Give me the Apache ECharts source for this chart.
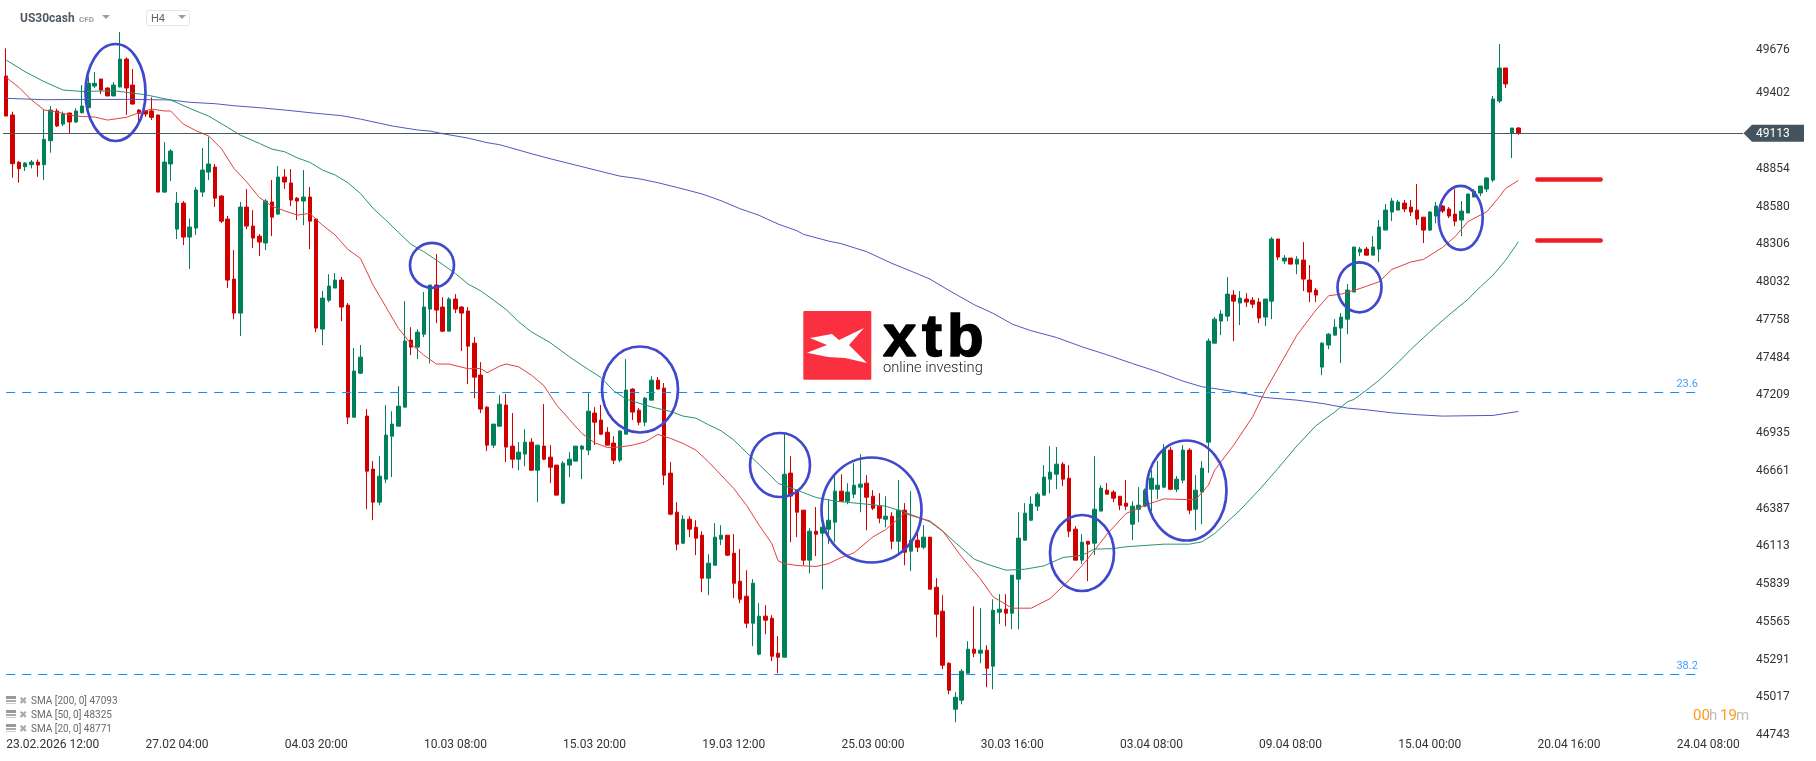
<!DOCTYPE html>
<html>
<head>
<meta charset="utf-8">
<title>US30cash H4</title>
<style>
  html, body { margin: 0; padding: 0; background: #fff; }
  #chart { width: 1816px; height: 761px; }
</style>
</head>
<body>
<div id="chart"></div>
<script src="https://cdn.jsdelivr.net/npm/echarts@6/dist/echarts.min.js"></script>
<script>
const opens = [49529,49246,48902,48870,48885,48904,48885,49059,49275,49180,49260,49195,49262,49299,49456,49507,49442,49384,49449,49652,49463,49282,49275,49275,49246,48686,48890,48417,48606,48359,48425,48686,48831,48868,48657,48490,48054,47807,48577,48439,48366,48316,48614,48526,48795,48752,48642,48621,48650,48490,47691,47901,47989,48047,47865,47051,47371,47059,46674,46434,46601,46913,46986,47124,47611,47560,47654,47836,48011,47851,47676,47909,47851,47822,47589,47357,47124,46848,46986,47139,46841,46746,46783,46870,46666,46841,46761,46703,46427,46703,46732,46819,46812,47081,47030,46942,46863,46739,46928,47255,47102,47015,47175,47320,47262,46645,46361,46136,46310,46252,46194,45882,45976,46165,46194,46063,45860,45751,45555,45330,45606,45591,45337,45308,46645,46521,46376,46013,46223,46209,46238,46289,46514,46441,46492,46543,46572,46477,46405,46310,46332,46150,46376,46078,46158,46107,46180,45816,45642,45264,44930,44996,45192,45366,45337,45359,45243,45635,45657,45628,45875,46158,46303,46405,46485,46601,46637,46710,46608,46238,46013,46150,46136,46369,46521,46507,46477,46427,46274,46383,46405,46528,46528,46543,46812,46528,46594,46812,46383,46507,46870,47589,47749,47785,47938,47880,47909,47901,47887,47778,47894,48345,48185,48207,48163,48192,48047,47974,47415,47575,47647,47698,47763,47960,48250,48272,48228,48272,48410,48541,48555,48606,48577,48555,48504,48410,48512,48584,48563,48526,48483,48534,48650,48679,48708,48773,49347,49587,49112,49151];
const closes = [49238,48892,48856,48897,48904,48882,49069,49282,49166,49253,49195,49275,49311,49476,49476,49427,49384,49463,49652,49442,49325,49258,49253,49229,48686,48904,48984,48606,48359,48432,48701,48846,48890,48642,48475,48047,47807,48577,48439,48352,48323,48621,48504,48795,48759,48628,48621,48650,48475,47698,47916,48003,48047,47851,47051,47386,47487,46659,46434,46623,46921,47001,47131,47604,47560,47669,47851,48011,47829,47676,47909,47836,47807,47567,47342,47110,46848,47001,47146,46834,46746,46797,46870,46666,46848,46746,46688,46485,46717,46746,46841,46841,47095,47015,46928,46848,46739,46950,47248,47088,47015,47189,47320,47255,46630,46347,46129,46310,46238,46172,45882,45991,46180,46194,46049,45845,45729,45555,45845,45606,45577,45315,45308,46637,46478,46361,46013,46223,46201,46252,46303,46514,46441,46507,46557,46565,46470,46390,46318,46332,46150,46376,46071,46158,46107,46180,45802,45620,45250,45068,45017,45206,45366,45337,45359,45228,45649,45657,45628,45904,46173,46354,46420,46492,46616,46652,46710,46601,46223,46013,46143,46129,46383,46536,46492,46463,46412,46405,46405,46412,46521,46608,46557,46819,46528,46601,46812,46376,46521,46681,47604,47763,47800,47945,47894,47916,47887,47872,47771,47909,48345,48214,48207,48163,48199,48054,47960,47938,47589,47654,47705,47778,47974,48287,48272,48228,48287,48432,48555,48621,48614,48563,48541,48490,48410,48541,48584,48548,48512,48475,48548,48672,48693,48730,48788,49362,49587,49471,49151,49113];
const lows = [49238,48790,48754,48839,48858,48797,48773,48972,49158,49166,49112,49187,49258,49294,49442,49398,49384,49384,49447,49246,49325,49197,49233,49209,48686,48679,48766,48345,48301,48127,48374,48650,48773,48577,48461,47989,47763,47640,48417,48279,48221,48265,48366,48519,48708,48584,48483,48446,48272,47669,47575,47887,47989,47749,47001,47051,47364,46383,46303,46412,46572,46616,46986,47124,47502,47473,47633,47441,47734,47669,47676,47807,47531,47291,47189,47081,46805,46826,46986,46725,46681,46666,46695,46666,46434,46739,46572,46485,46419,46616,46732,46601,46775,46848,46921,46848,46710,46725,46928,47030,46993,46986,47175,47255,46558,46339,46085,46129,46180,46049,45780,45758,45976,46122,46042,45737,45700,45519,45388,45322,45475,45279,45192,45308,46143,46180,45976,45918,46042,45802,46129,46143,46434,46419,46463,46361,46230,46376,46281,46252,46093,46049,45976,45933,46071,46093,45802,45453,45221,45039,44836,44966,45192,45308,45264,45090,45075,45548,45533,45511,45511,46158,46296,46369,46485,46499,46528,46550,46180,46013,45984,45860,46049,46369,46492,46434,46376,46376,46158,46289,46398,46369,46456,46536,46521,46507,46572,46347,46230,46274,46647,47589,47647,47749,47604,47720,47851,47843,47734,47713,47763,48192,48163,48163,48090,47967,47887,47887,47357,47545,47647,47444,47654,47960,48221,48228,48228,48178,48410,48475,48555,48541,48512,48446,48316,48403,48459,48534,48497,48439,48366,48534,48650,48657,48686,48759,49333,49442,48933,49100];
const highs = [49730,49270,48911,48902,48919,48923,49282,49311,49292,49270,49262,49294,49463,49524,49558,49507,49446,49485,49849,49664,49580,49287,49282,49374,49246,49049,48998,48686,48621,48495,48722,49006,49088,48890,48664,48512,48265,48614,48708,48555,48381,48635,48773,48875,48853,48853,48650,48846,48722,48497,47967,48090,48098,48069,47880,47553,47575,47110,46732,46768,47139,47095,47277,47894,47705,47691,47960,48011,48236,47923,47923,47945,47858,47851,47633,47451,47131,47001,47211,47219,47081,46870,46964,46899,46848,47146,46848,46703,46732,46797,46841,46848,47226,47124,47139,46979,46913,46957,47473,47262,47117,47197,47349,47342,47299,46725,46434,46339,46332,46303,46223,46056,46281,46267,46194,46202,46093,45940,45875,45700,45686,45613,45460,46933,46768,46521,46376,46245,46398,46369,46456,46637,46637,46572,46717,46783,46630,46521,46499,46477,46361,46594,46427,46514,46245,46267,46180,45882,45758,45272,45054,45221,45424,45678,45664,45395,45729,45766,45766,45904,46361,46427,46477,46507,46703,46841,46834,46725,46703,46260,46202,46150,46768,46557,46572,46521,46477,46594,46441,46543,46533,46666,46732,46855,46834,46623,46848,46826,46630,46732,47623,47778,47829,48069,47974,47967,47952,47923,47916,47909,48359,48345,48228,48207,48221,48323,48156,47989,47596,47662,47763,47807,48018,48287,48287,48287,48366,48483,48599,48643,48628,48628,48628,48744,48504,48548,48614,48592,48577,48708,48621,48672,48708,48730,48795,49384,49761,49587,49151,49158];

// moving averages: [candle number, value]
const sma20 = [[0,49519],[2,49447],[4,49355],[6,49282],[8,49267],[11,49238],[14,49231],[16,49209],[19,49229],[21,49262],[23,49289],[25,49275],[26,49275],[28,49180],[30,49132],[32,49093],[34,49003],[36,48858],[38,48761],[40,48647],[42,48584],[44,48550],[46,48519],[48,48531],[50,48446],[52,48374],[54,48270],[56,48204],[58,48010],[60,47853],[62,47696],[64,47582],[66,47502],[68,47437],[70,47437],[73,47403],[75,47405],[76,47374],[78,47422],[79,47437],[81,47417],[83,47357],[85,47279],[87,47139],[89,47035],[91,46933],[93,46865],[95,46831],[97,46834],[99,46848],[101,46872],[103,46926],[105,46897],[107,46860],[109,46812],[111,46727],[113,46630],[115,46533],[117,46412],[119,46267],[121,46134],[122,46008],[123,45988],[125,45974],[128,45967],[130,45988],[132,46032],[134,46066],[137,46182],[139,46235],[142,46352],[144,46323],[146,46298],[148,46226],[151,46037],[154,45875],[156,45746],[159,45664],[162,45664],[165,45734],[168,45867],[171,46025],[174,46202],[177,46352],[180,46412],[183,46458],[186,46453],[188,46453],[190,46557],[191,46666],[194,46848],[197,47054],[199,47243],[201,47405],[204,47647],[207,47829],[209,47933],[211,47945],[214,47986],[217,48035],[219,48124],[222,48178],[224,48197],[227,48284],[229,48362],[231,48471],[234,48543],[236,48652],[237,48713],[239,48771]];
const sma50 = [[0,49645],[3,49560],[6,49488],[9,49427],[12,49417],[17,49422],[22,49393],[24,49374],[26,49355],[29,49294],[32,49238],[35,49156],[37,49100],[40,49040],[42,48998],[44,48979],[46,48935],[48,48902],[50,48846],[52,48810],[54,48754],[56,48676],[58,48567],[60,48483],[62,48393],[64,48306],[66,48253],[68,48192],[71,48095],[73,48018],[75,47969],[77,47902],[79,47834],[81,47744],[83,47671],[86,47592],[89,47490],[92,47398],[94,47340],[96,47243],[98,47182],[101,47139],[103,47114],[105,47093],[107,47059],[109,47044],[111,46996],[113,46952],[115,46885],[117,46795],[119,46708],[121,46618],[122,46570],[123,46555],[125,46521],[128,46468],[131,46441],[135,46424],[139,46405],[142,46361],[144,46327],[146,46291],[148,46223],[150,46141],[153,46020],[155,45984],[158,45940],[161,45947],[164,45971],[167,46032],[170,46047],[172,46093],[175,46097],[177,46110],[183,46129],[187,46129],[189,46146],[191,46206],[195,46376],[198,46521],[201,46679],[204,46843],[207,46989],[210,47090],[212,47163],[213,47180],[215,47248],[217,47320],[220,47449],[222,47543],[225,47671],[228,47793],[231,47906],[233,47998],[235,48083],[237,48192],[239,48325]];
const sma200 = [[0,49367],[6,49357],[12,49359],[20,49359],[26,49355],[29,49338],[33,49328],[36,49313],[40,49299],[44,49282],[49,49258],[53,49241],[56,49216],[61,49166],[65,49137],[67,49129],[69,49110],[73,49078],[76,49045],[78,49030],[83,48965],[86,48928],[90,48882],[94,48836],[97,48802],[100,48783],[103,48754],[106,48720],[110,48672],[113,48623],[116,48565],[119,48517],[122,48454],[125,48405],[126,48379],[130,48330],[132,48311],[136,48253],[140,48168],[144,48093],[146,48054],[149,47972],[153,47868],[156,47805],[159,47727],[162,47679],[166,47630],[170,47563],[174,47504],[178,47441],[182,47381],[186,47313],[189,47272],[192,47252],[196,47221],[199,47194],[204,47175],[208,47151],[212,47117],[215,47105],[219,47083],[223,47069],[227,47059],[235,47064],[239,47093]];

const lastPrice = 49113;
const fib236 = 47231;
const fib382 = 45183;
const redLevels = [48777, 48338];

const priceTicks = [49676,49402,48854,48580,48306,48032,47758,47484,47209,46935,46661,46387,46113,45839,45565,45291,45017,44743];
const timeTickIndex = [0,27,49,71,93,115,137,159,181,203,225,247,269];
const timeTickLabels = ["23.02.2026 12:00","27.02 04:00","04.03 20:00","10.03 08:00","15.03 20:00","19.03 12:00","25.03 00:00","30.03 16:00","03.04 08:00","09.04 08:00","15.04 00:00","20.04 16:00","24.04 08:00"];

const upColor = "#00805a";
const downColor = "#d00000";
const font = "Roboto, sans-serif";

// 275 slots so the axis runs on past the last candle
const categories = new Array(275).fill("");
timeTickIndex.forEach((idx, n) => {
  categories[idx] = timeTickLabels[n];
});

const candles = opens.map((o, i) => [o, closes[i], lows[i], highs[i]]);

const smaLine = (name, data, color) => ({
  name: name,
  type: "line",
  data: data,
  encode: { x: 0, y: 1 },
  symbol: "none",
  z: 5,
  silent: true,
  lineStyle: { color: color, width: 1 },
});

const fibLine = (value, text) => [
  {
    xAxis: 0,
    yAxis: value,
    lineStyle: { color: "#0a8dff", width: 1, type: [9, 7] },
    label: {
      show: true,
      position: "insideEndTop",
      formatter: text,
      color: "#3fa2ff",
      fontFamily: font,
      fontSize: 11,
      distance: 3,
      padding: [0, 1, 0, 0],
    },
  },
  { xAxis: 268, yAxis: value },
];

const redLine = (value) => [
  {
    xAxis: 242,
    yAxis: value,
    lineStyle: { color: "#ee1c25", width: 4.5, cap: "round", type: "solid" },
    label: { show: false },
  },
  { xAxis: 252, yAxis: value },
];

const chart = echarts.init(document.getElementById("chart"));
const option = {
  animation: false,
  backgroundColor: "#fff",
  grid: { left: 3, top: 0, width: 1740, height: 735 },
  xAxis: {
    type: "category",
    data: categories,
    boundaryGap: true,
    axisLine: { show: false },
    axisTick: { show: false },
    splitLine: { show: false },
    axisLabel: {
      interval: 0,
      margin: 4,
      color: "#333",
      fontFamily: font,
      fontSize: 12,
      alignMinLabel: "left",
    },
  },
  yAxis: {
    type: "value",
    position: "right",
    min: 44743,
    max: 50081,
    axisLine: { show: false },
    axisTick: { show: false },
    splitLine: { show: false },
    axisLabel: {
      customValues: priceTicks,
      margin: 13,
      color: "#333",
      fontFamily: font,
      fontSize: 12,
      verticalAlignMinLabel: "bottom",
      formatter: (value) => String(value),
    },
  },
  series: [
    {
      name: "US30cash",
      type: "candlestick",
      data: candles,
      barWidth: 4,
      silent: true,
      itemStyle: {
        color: upColor,
        color0: downColor,
        borderColor: upColor,
        borderColor0: downColor,
        borderWidth: 1,
      },
      markLine: {
        silent: true,
        symbol: "none",
        animation: false,
        z: 6,
        data: [
          {
            yAxis: lastPrice,
            lineStyle: { color: "#4a5862", width: 1, type: "solid" },
            label: { show: false },
          },
          fibLine(fib236, "23.6"),
          fibLine(fib382, "38.2"),
          redLine(redLevels[0]),
          redLine(redLevels[1]),
        ],
      },
    },
    smaLine("SMA 200", sma200, "#4f5abd"),
    smaLine("SMA 50", sma50, "#2a9272"),
    smaLine("SMA 20", sma20, "#e2403e"),
  ],
};
chart.setOption(option);

// hand drawn circles on the screenshot
const circles = [
  [115.5, 92.5, 30, 48.5],
  [432, 265.3, 22, 22.5],
  [640, 389.5, 38, 43],
  [780, 465, 30, 32],
  [871.5, 510, 50, 52.5],
  [1082, 553, 32, 38],
  [1186.5, 490.5, 40, 50],
  [1359.5, 287.3, 22, 25],
  [1460.7, 217.8, 22, 32],
];
const legendRows = [
  ["SMA [200, 0] 47093", 701],
  ["SMA [50, 0] 48325", 715],
  ["SMA [20, 0] 48771", 729],
];

const elements = [];
circles.forEach((c) => {
  elements.push({
    type: "ellipse",
    z: 20,
    silent: true,
    shape: { cx: c[0], cy: c[1], rx: c[2], ry: c[3] },
    style: { fill: null, stroke: "#4048cc", lineWidth: 2.7 },
  });
});
const addText = (text, x, y, size, fill, extra) => {
  elements.push({
    type: "text",
    z: 21,
    silent: true,
    style: Object.assign(
      { text: text, x: x, y: y, fill: fill, font: size + "px " + font, textVerticalAlign: "middle" },
      extra || {}
    ),
  });
};
const addTriangle = (x, y) => {
  elements.push({
    type: "polygon",
    z: 21,
    silent: true,
    shape: { points: [[x - 4, y - 2], [x + 4, y - 2], [x, y + 2]] },
    style: { fill: "#9aa0a5" },
  });
};

// header
addText("US30cash", 20, 19, 12, "#4f5962", { font: "bold 12px " + font });
addText("CFD", 79, 20, 8, "#9aa0a5", { font: "bold 8px " + font });
addTriangle(106, 17);
elements.push({
  type: "rect",
  z: 21,
  silent: true,
  shape: { x: 146.5, y: 10.5, width: 43, height: 15, r: 2 },
  style: { fill: "#fff", stroke: "#e3e5e7", lineWidth: 1 },
});
addText("H4", 151, 19, 11, "#5c656d");
addTriangle(182, 17);

// indicator legend
legendRows.forEach((row) => {
  elements.push({
    type: "rect",
    z: 21,
    silent: true,
    shape: { x: 6, y: row[1] - 5, width: 10, height: 3 },
    style: { fill: "#999" },
  });
  elements.push({
    type: "rect",
    z: 21,
    silent: true,
    shape: { x: 6, y: row[1] - 1, width: 10, height: 2 },
    style: { fill: "#aaa" },
  });
  elements.push({
    type: "rect",
    z: 21,
    silent: true,
    shape: { x: 6, y: row[1] + 2, width: 10, height: 1 },
    style: { fill: "#ccc" },
  });
  addText("\u2716", 19, row[1], 10, "#aaa", { font: "10px 'DejaVu Sans'" });
  addText(row[0], 31, row[1], 10, "#6a6a6a");
});

// countdown
addText("00", 1693, 716, 15, "#ff9a1a");
addText("h", 1709, 716, 15, "#bdbdbd");
addText("19", 1720, 716, 15, "#ff9a1a");
addText("m", 1736, 716, 15, "#bdbdbd");

// logo
elements.push({
  type: "rect",
  z: 21,
  silent: true,
  shape: { x: 803.3, y: 311, width: 68, height: 68.7, r: 1 },
  style: { fill: "#fa3040" },
});
elements.push({
  type: "polygon",
  z: 22,
  silent: true,
  shape: { points: [[810, 338], [832, 334], [839, 340], [864, 328], [849, 345], [867, 363], [845, 358], [828, 357], [807, 352.7], [827, 345]] },
  style: { fill: "#fff" },
});
const logoFont = "bold 60px 'Liberation Sans'";
const logoStroke = { font: logoFont, stroke: "#000", lineWidth: 1.5 };
addText("x", 883, 339, 60, "#000", logoStroke);
addText("t", 922, 339, 60, "#000", logoStroke);
addText("b", 947, 339, 60, "#000", logoStroke);
addText("online investing", 883, 368, 15, "#222", { font: "300 14.7px " + font });

// current price tag sits on the last price, taken from the axis
const tagY = chart.convertToPixel({ yAxisIndex: 0 }, lastPrice);
elements.push({
  type: "polygon",
  z: 21,
  silent: true,
  shape: { points: [[1743.5, tagY], [1752, tagY - 8.5], [1804, tagY - 8.5], [1804, tagY + 8.5], [1752, tagY + 8.5]] },
  style: { fill: "#44545e" },
});
addText(String(lastPrice), 1756, tagY + 1, 12, "#fff");

chart.setOption({ graphic: { elements: elements } });
</script>
</body>
</html>
